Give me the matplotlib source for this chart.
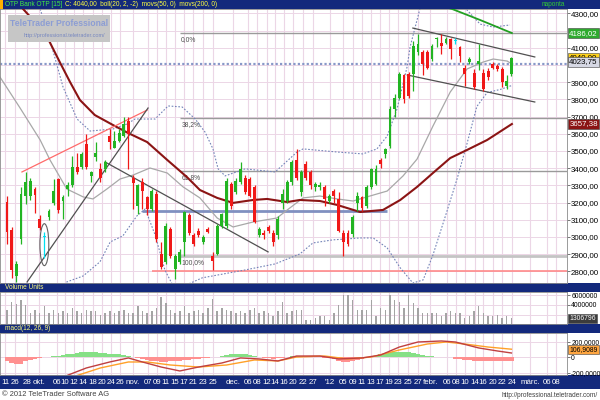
import numpy as np
import matplotlib
matplotlib.use("Agg")
import matplotlib.pyplot as plt
from matplotlib.patches import Rectangle, Ellipse
from matplotlib import font_manager
from matplotlib.transforms import blended_transform_factory

# ---- data (daily candles, index 0 = first candle) ----
opens = [3205, 3040, 2770, 2990, 3240, 3240, 3280, 3105, 3000, 3115,
         3195, 3335, 3210, 3280, 3305, 3405, 3405, 3540, 3355, 3465,
         3395, 3395, 3590, 3520, 3560, 3590, 3675, 3340, 3180, 3320,
         3230, 3165, 3250, 2900, 2855, 3045, 2815, 2855, 2970, 3125,
         3010, 3035, 2970, 3045, 2890, 2900, 3065, 3065, 3310, 3260,
         3320, 3345, 3335, 3290, 3010, 3025, 3055, 3025, 3010, 3200,
         3210, 3320, 3445, 3260, 3425, 3375, 3290, 3290, 3290, 3210,
         3270, 3220, 3025, 3025, 3015, 3200, 3230, 3180, 3290, 3310,
         3445, 3480, 3530, 3745, 3810, 3940, 3950, 3950, 4075, 4075,
         4075, 4035, 4150, 4130, 4130, 4150, 4140, 4105, 3985, 4015,
         3955, 4005, 3955, 3965, 4005, 3995, 3975, 3880, 3950]
highs = [3240, 3060, 2860, 3290, 3375, 3345, 3290, 3125, 3030, 3160,
         3335, 3345, 3245, 3320, 3470, 3490, 3495, 3600, 3385, 3550,
         3430, 3445, 3625, 3615, 3625, 3695, 3700, 3360, 3310, 3340,
         3240, 3280, 3270, 2970, 3080, 3060, 2900, 2930, 3150, 3140,
         3020, 3050, 3010, 3060, 2910, 3075, 3140, 3345, 3320, 3340,
         3435, 3360, 3350, 3300, 3060, 3040, 3070, 3040, 3120, 3280,
         3330, 3450, 3510, 3390, 3440, 3390, 3320, 3320, 3300, 3250,
         3280, 3260, 3040, 3040, 3125, 3260, 3240, 3300, 3400, 3420,
         3460, 3520, 3760, 3830, 3960, 3950, 3960, 4140, 4180, 4090,
         4085, 4120, 4165, 4180, 4165, 4160, 4160, 4110, 4000, 4045,
         3975, 4120, 3975, 3985, 4015, 4005, 3990, 3940, 4045]
lows = [2960, 2760, 2740, 2960, 3190, 3215, 3140, 3040, 2880, 3100,
        3185, 3140, 3105, 3240, 3290, 3365, 3395, 3395, 3320, 3440,
        3320, 3380, 3510, 3515, 3550, 3580, 3395, 3160, 3135, 3165,
        3125, 3150, 2970, 2815, 2840, 2880, 2755, 2840, 2890, 3010,
        2950, 3000, 2960, 3020, 2805, 2895, 3050, 3050, 3160, 3250,
        3310, 3250, 3230, 3080, 3000, 2990, 3020, 2950, 2990, 3160,
        3200, 3300, 3330, 3240, 3330, 3280, 3270, 3275, 3180, 3195,
        3200, 3030, 2890, 2950, 3000, 3150, 3150, 3170, 3280, 3300,
        3400, 3460, 3520, 3700, 3800, 3780, 3810, 3850, 4060, 3940,
        3975, 4025, 4105, 4065, 4125, 4035, 4120, 4015, 3880, 4005,
        3860, 3970, 3850, 3915, 3975, 3965, 3870, 3860, 3935]
closes = [3030, 2810, 2840, 3250, 3320, 3325, 3245, 3050, 3005, 3150,
          3265, 3155, 3230, 3305, 3405, 3375, 3480, 3405, 3375, 3490,
          3345, 3435, 3550, 3560, 3605, 3655, 3600, 3315, 3300, 3270,
          3165, 3270, 2990, 2825, 3065, 2890, 2890, 2910, 3145, 3025,
          2960, 3010, 3000, 3030, 2860, 3065, 3135, 3325, 3180, 3325,
          3395, 3260, 3240, 3085, 3045, 3010, 3035, 2970, 3105, 3250,
          3320, 3435, 3345, 3375, 3345, 3300, 3310, 3305, 3220, 3240,
          3240, 3035, 2970, 2960, 3115, 3240, 3170, 3290, 3395, 3395,
          3425, 3510, 3745, 3810, 3950, 3800, 3820, 4110, 4120, 4005,
          3985, 4110, 4160, 4110, 4150, 4095, 4145, 4055, 3950, 4035,
          3870, 4025, 3860, 3930, 3985, 3975, 3900, 3910, 4040]
doji_idx = [8, 96]

# volume in millions of units
volumes = [3.0, 4.7, 4.2, 5.0, 4.0, 2.3, 3.0, 2.3, 3.7, 2.3,
           3.0, 2.3, 2.7, 2.3, 3.3, 2.7, 2.3, 3.0, 2.7, 2.7,
           2.0, 2.3, 2.7, 2.3, 2.7, 3.0, 2.3, 2.3, 3.7, 2.7,
           2.3, 2.7, 3.3, 5.7, 4.3, 3.0, 2.3, 2.7, 3.7, 2.3,
           2.7, 3.0, 2.3, 3.3, 5.3, 2.7, 3.3, 3.0, 2.7, 2.3,
           2.7, 2.3, 3.0, 3.3, 2.3, 2.7, 2.3, 1.7, 2.7, 4.7,
           2.3, 2.7, 3.0, 3.0, 1.0, 1.0, 1.3, 1.7, 1.7, 1.0,
           2.3, 4.0, 6.0, 6.0, 5.0, 3.0, 3.0, 3.0, 5.0, 1.7,
           3.3, 3.0, 6.0, 5.0, 4.7, 3.3, 6.0, 4.3, 3.3, 2.3,
           2.3, 2.3, 2.3, 1.7, 2.3, 2.7, 2.3, 2.3, 1.3, 1.7,
           2.7, 3.7, 2.3, 1.7, 1.7, 2.0, 1.3, 1.7, 1.31]

# moving averages / bollinger bands, sampled along the drawn lines
ma50_k = [1.7, 5.6, 8.6, 11.3, 13.5, 15.6, 18.8, 22.7, 25.9, 30.0, 34.3, 38.5, 41.3, 45.0, 48.4,
          52.7, 55.7, 60.0, 62.7, 67.0, 70.7, 75.6, 80.5, 84.2, 87.8, 91.2, 94.9, 98.5, 102.8, 108.1]
ma50_v = [4378, 4262, 4163, 4017, 3901, 3797, 3709, 3651, 3605, 3552, 3448, 3349, 3273, 3227, 3198,
          3215, 3221, 3203, 3215, 3209, 3186, 3145, 3157, 3215, 3291, 3372, 3459, 3506, 3564, 3657]
ma200_k = [93.0, 95.3, 101.3, 108.1]
ma200_v = [4345, 4326, 4262, 4186]
bb_up_k = [7.1, 9.2, 12.0, 15.0, 17.8, 22.7, 25.7, 27.4, 31.7, 34.5, 37.5, 40.3, 42.4, 44.1, 45.2, 46.7,
           51.0, 57.4, 62.1, 63.4, 70.7, 76.2, 79.2, 81.4, 83.5, 85.7, 86.3, 88.4, 92.7, 98.5, 101.3,
           104.1, 107.7]
bb_up_v = [4326, 4145, 3872, 3686, 3616, 3628, 3657, 3686, 3686, 3762, 3756, 3686, 3610, 3512, 3396, 3355,
           3396, 3378, 3494, 3512, 3494, 3483, 3512, 3587, 3744, 3994, 4105, 4326, 4523, 4320, 4238,
           4221, 4233]
bb_lo_k = [10.9, 12.8, 16.3, 19.9, 22.1, 24.8, 27.8, 29.6, 31.7, 33.8, 36.0, 41.8, 51.0, 57.4, 62.7, 65.5,
           69.8, 75.6, 78.4, 81.4, 84.2, 86.9, 89.1, 91.2, 94.2, 96.4, 98.5, 100.6, 102.8, 105.6, 108.1]
bb_lo_v = [2631, 2738, 2773, 2855, 2971, 3006, 3122, 3163, 3012, 2808, 2692, 2762, 2808, 2843, 2901, 2965,
           2983, 2994, 2994, 2936, 2820, 2732, 2750, 2895, 3150, 3341, 3544, 3759, 3840, 3858, 3881]
bb_mid_k = [-1.5, 2.8, 7.1, 9.2, 12.8, 16.3, 18.4, 21.4, 24.2, 27.0, 30.6, 34.3, 37.7, 41.3, 45.0, 48.4,
            52.7, 57.8, 60.0, 63.4, 67.0, 70.7, 74.1, 77.7, 81.4, 84.8, 87.8, 91.2, 94.9, 98.5, 101.9,
            104.1, 107.1, 108.1]
bb_mid_v = [3930, 3750, 3564, 3448, 3279, 3233, 3221, 3279, 3337, 3360, 3401, 3372, 3291, 3227, 3110, 3058,
            3087, 3110, 3157, 3227, 3238, 3221, 3209, 3238, 3267, 3355, 3453, 3645, 3843, 3977, 4017,
            4035, 4023, 4006]

# macd
macd_k = [12, 17, 22, 26, 29, 33, 37, 41, 46, 50, 54, 58, 62, 67, 71, 76, 80, 84, 88, 93, 96, 101, 105, 108]
macd_v = [-252, -135, -58, -6, -58, -123, -174, -123, -71, -6, -19, -45, 19, 19, -19, -6, 32, 135, 200,
          213, 200, 123, 84, 58]
signal_k = [14, 20, 26, 30, 35, 41, 47, 53, 58, 62, 68, 73, 78, 84, 90, 94, 98, 103, 108]
signal_v = [-252, -135, -58, -58, -97, -123, -97, -32, -45, 6, 19, -19, 6, 97, 174, 200, 174, 135, 107]
hist = [-40, -70, -90, -80, -50, -30, -20, -10, 0,
        10, 15, 20, 30, 40, 50, 55, 65, 70, 70, 65, 60, 55, 50, 45, 40, 35, 25, 10,
        -10, -20, -30, -40, -50, -55, -55, -50, -45, -40, -35, -30, -25, -15, -10, -5, 0,
        10, 20, 30, 40, 45, 45, 40, 30, 20, 10,
        -5, -10, -15, -10, -5,
        10, 15, 20, 15, 10, 10, 5,
        0, -5, -10,
        -20, -40, -55, -55, -45, -30, -15, -5,
        10, 25, 40, 55, 65, 75, 75, 70, 65, 55, 45, 35, 25, 15, 10, 5, 5, 0,
        -15, -25, -30, -35, -40, -45, -45, -45, -45, -45, -45, -40, -40]

# drawn objects (index, price)
trend_lines = [((3.2, 3378), (30.0, 3738), '#ff6a6a'),
               ((4.3, 2738), (30.2, 3750), '#505050'),
               ((21.0, 3436), (55.9, 2913), '#505050'),
               ((86.9, 4215), (113.0, 4047), '#505050'),
               ((85.7, 3942), (113.0, 3785), '#505050')]
fib_levels = [4186, 3691, 3385, 2890]
fib_labels = ["0,0%", "38,2%", "61,8%", "100,0%"]

# right-hand scale labels that stay visible (4200 and 4000 sit under the value badges)
price_ticks = [2800, 2900, 3000, 3100, 3200, 3300, 3400, 3500, 3600, 3700, 3800, 3900, 4100, 4300]
vol_ticks = [4e6, 6e6]

tick_labels = ["11", "26", "28", "okt.", "06", "10", "12", "14", "18", "20", "24", "26", "nov.", "07",
               "09", "11", "15", "17", "21", "23", "25", "dec.", "06", "08", "12", "14", "16", "20",
               "22", "27", "'12", "05", "09", "11", "13", "17", "19", "23", "25", "27", "febr.", "06",
               "08", "10", "14", "16", "20", "22", "24", "márc.", "06", "08"]
tick_pos = [-0.4, 1.7, 4.3, 6.9, 10.7, 12.4, 14.3, 16.3, 18.4, 20.3, 22.3, 24.2, 27.0, 30.2, 32.1, 34.0,
            36.0, 37.9, 39.8, 42.0, 44.1, 48.4, 51.6, 53.5, 55.7, 57.4, 59.3, 61.2, 63.4, 65.5, 69.2,
            71.9, 74.1, 76.0, 77.9, 79.9, 81.8, 83.7, 85.9, 88.0, 90.6, 94.2, 96.1, 98.1, 100.2, 101.9,
            104.1, 106.0, 108.1, 112.0, 115.6, 117.6]


def pick_font():
    for fam in ["Liberation Sans Narrow", "Liberation Sans"]:
        try:
            font_manager.findfont(font_manager.FontProperties(family=fam), fallback_to_default=False)
            return fam
        except Exception:
            pass
    return "DejaVu Sans"


FONT = pick_font()
NARROW = FONT == "Liberation Sans Narrow"
plt.rcParams['font.family'] = [FONT, 'DejaVu Sans']
HDR_FS = 5.8 if NARROW else 4.7
AX_FS = 6.3 if NARROW else 5.7
SM_FS = AX_FS - 0.8

NAVY = '#13297c'
GREEN = '#22b422'
RED = '#f01818'
CYAN = '#00e0f0'
GRID = '#ecd6e6'
W, H = 600, 400
XMIN, XMAX = -1.5, 119.9

fig = plt.figure(figsize=(6, 4), dpi=100)


def px_axes(x0, y0, x1, y1):
    return fig.add_axes([x0 / W, 1 - y1 / H, (x1 - x0) / W, (y1 - y0) / H])


def band(x0, y0, x1, y1, color, z=0):
    fig.add_artist(Rectangle((x0 / W, 1 - y1 / H), (x1 - x0) / W, (y1 - y0) / H,
                             transform=fig.transFigure, facecolor=color, edgecolor='none', zorder=z))


def ftext(x, y, s, **kw):
    fig.text(x / W, 1 - y / H, s, **kw)


def style_panel(a, ymin, ymax, fs):
    a.set_xlim(XMIN, XMAX)
    a.set_ylim(ymin, ymax)
    a.set_xticks([])
    a.yaxis.tick_right()
    a.tick_params(axis='y', labelsize=fs, length=2, width=0.5, pad=1, color='#404040')
    a.vlines(tick_pos, ymin, ymax, color=GRID, lw=0.8, zorder=0)
    for s in a.spines.values():
        s.set_linewidth(0.6)
        s.set_color('#8a8a8a')


def badge(a, y, s, fc, tc, fs):
    tr = blended_transform_factory(a.transAxes, a.transData)
    a.text(1.004, y, s, transform=tr, fontsize=fs, color=tc, va='center', ha='left', zorder=20,
           clip_on=False, bbox=dict(boxstyle='square,pad=0.18', fc=fc, ec='#404040', lw=0.4))


x = np.arange(len(closes))
o, h, l, c = map(np.array, (opens, highs, lows, closes))

# ---- main price panel ----
ax = px_axes(0, 9, 567, 283)
style_panel(ax, 2732, 4326, AX_FS)
ax.set_yticks(price_ticks)
ax.set_yticklabels([f"{t},00" for t in price_ticks])
ax.hlines(range(2800, 4301, 100), XMIN, XMAX, color=GRID, lw=0.7, zorder=0)

# horizontal levels
ax.hlines(4005, XMIN, XMAX, color='#8898c8', lw=1.6, linestyle=(0, (1, 1)), zorder=1)
for lev, lab in zip(fib_levels, fib_labels):
    lw, col = (2.0, '#c4c4c4') if lab == "100,0%" else (1.0, '#9a9a9a')
    ax.hlines(lev, 37, XMAX, color=col, lw=lw, zorder=1)
    ax.text(37.3, lev - 18, lab, fontsize=SM_FS, color='#505050', va='top', ha='left', zorder=2)
ax.hlines(2800, 31, XMAX, color='#ff8a8a', lw=1.2, zorder=1)
ax.hlines(3150, 29, 81.4, color='#8090c0', lw=2.0, zorder=1)

# bands and averages
ax.plot(bb_up_k, bb_up_v, color='#7484b8', lw=0.8, ls=(0, (1.5, 1.5)), zorder=2)
ax.plot(bb_lo_k, bb_lo_v, color='#7484b8', lw=0.8, ls=(0, (1.5, 1.5)), zorder=2)
ax.plot(bb_mid_k, bb_mid_v, color='#a8a8a8', lw=0.9, zorder=2)
ax.plot(ma50_k, ma50_v, color='#8b1414', lw=1.5, zorder=3)
ax.plot(ma200_k, ma200_v, color='#22a022', lw=1.3, zorder=3)

for (x0, y0), (x1, y1), col in trend_lines:
    ax.plot([x0, x1], [y0, y1], color=col, lw=0.9, zorder=3)
ax.add_patch(Ellipse((8, 2955), 1.9, 244, fill=False, ec='#606060', lw=0.8, zorder=6))

# candles
cols = np.where(c >= o, GREEN, RED).astype(object)
for i in doji_idx:
    cols[i] = CYAN
ax.vlines(x, l, h, colors=list(cols), lw=0.9, zorder=4)
ax.bar(x, np.maximum(np.abs(c - o), 7), bottom=np.minimum(o, c), width=0.62, color=list(cols),
       lw=0, zorder=5)

badge(ax, 4186.02, "4186,02", '#2eaa2e', 'white', AX_FS)
badge(ax, 4044.0, "4040,00", '#ffd21a', 'black', AX_FS)
badge(ax, 4019.75, "4023,75", '#d6d8e4', 'black', AX_FS)
badge(ax, 3657.38, "3657,38", '#8b1414', 'white', AX_FS)

# watermark
band(8, 15, 110, 42, '#c6c6c6', z=5)
ftext(59, 24, "TeleTrader Professional", fontsize=7.4 if NARROW else 6.2, fontweight='bold',
      color='#8c9dd4', ha='center', va='center', zorder=6)
ftext(64, 35, "http://professional.teletrader.com/", fontsize=4.0, color='#7888c0', ha='center',
      va='center', zorder=6)

# ---- volume panel ----
axv = px_axes(0, 292, 567, 324)
style_panel(axv, 0.14e6, 6.63e6, SM_FS)
axv.hlines([2e6, 4e6, 6e6], XMIN, XMAX, color=GRID, lw=0.7, zorder=0)
axv.bar(x, np.array(volumes) * 1e6, width=0.32, color='#a4a4a4', zorder=2)
axv.set_yticks(vol_ticks)
axv.set_yticklabels([f"{int(v)}" for v in vol_ticks])
badge(axv, 1306796, "1306796", '#3c3c3c', 'white', SM_FS)

# ---- macd panel ----
axm = px_axes(0, 333, 567, 375)
style_panel(axm, -226, 316, SM_FS)
axm.hlines([-200, 0, 200], XMIN, XMAX, color=GRID, lw=0.7, zorder=0)
hv = np.array(hist)
axm.bar(x, hv, width=1.0, color=np.where(hv >= 0, '#86e086', '#ff9090'), lw=0, zorder=1)
axm.plot(signal_k, signal_v, color='#ffa028', lw=1.0, zorder=3)
axm.plot(macd_k, macd_v, color='#c04040', lw=1.0, zorder=3)
axm.set_yticks([-200, 0, 200])
axm.set_yticklabels(["-200,0000", "0", "200,0000"])
badge(axm, 100, "106,9089", '#ffa640', 'black', SM_FS)

# ---- bars with titles, date axis, footer ----
band(0, 0, 600, 9, NAVY)
band(0, 0, 2.5, 9, '#ffb000', z=1)
ftext(5, 4.8, "OTP Bank OTP [15]", fontsize=HDR_FS, color='#44ee44', va='center')
ftext(65, 4.8, "C: 4040,00  boll(20, 2, -2)  movs(50, 0)  movs(200, 0)", fontsize=HDR_FS,
      color='#ffff40', va='center')
ftext(542, 4.8, "naponta", fontsize=HDR_FS, color='#33cc33', va='center')

band(0, 283, 600, 292, NAVY)
ftext(5, 287.7, "Volume Units", fontsize=HDR_FS, color='#ffff80', va='center')
band(0, 324, 600, 333, NAVY)
ftext(5, 328.7, "macd(12, 26, 9)", fontsize=HDR_FS, color='#ffff80', va='center')

band(0, 375, 600, 389, NAVY)
for p, s in zip(tick_pos, tick_labels):
    ftext(7 + 4.67 * p, 382.5, s, fontsize=AX_FS, color='white', ha='center', va='center')

ftext(2, 394.5, "\u00a9 2012 TeleTrader Software AG", fontsize=AX_FS - 0.3, color='#404040', va='center')
ftext(598, 395.5, "http://professional.teletrader.com/", fontsize=AX_FS - 1.0, color='#404040',
      ha='right', va='center')

fig.savefig("out.png", dpi=100)
